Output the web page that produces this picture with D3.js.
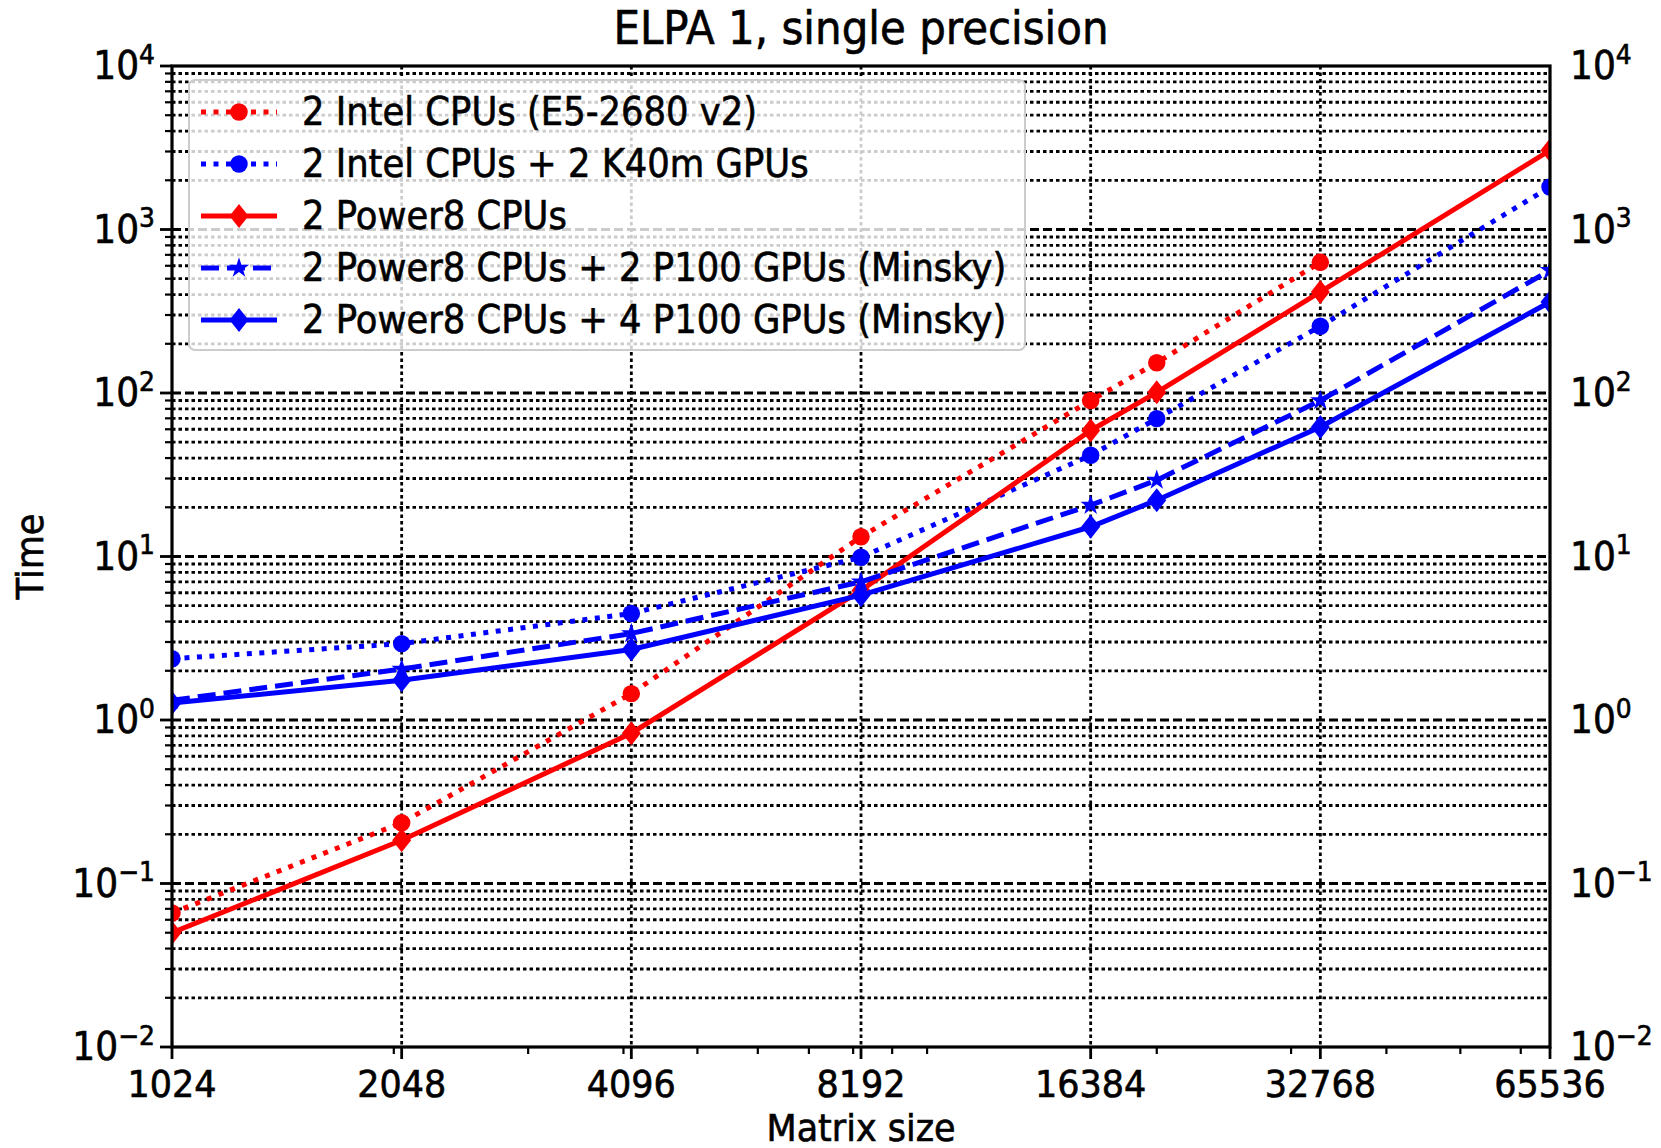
<!DOCTYPE html>
<html>
<head>
<meta charset="utf-8">
<script src="https://cdnjs.cloudflare.com/ajax/libs/d3/7.8.5/d3.min.js"></script>
<style>
  html, body { margin: 0; padding: 0; background: #fff; overflow: hidden; }
  svg { display: block; font-family: "DejaVu Sans", sans-serif; overflow: visible; }
  .txt { fill: #000; stroke: #000; stroke-width: 0.6; }
</style>
</head>
<body>
<div id="chart"></div>
<script>
// --- dati ---
const sizes = [1024, 2048, 4096, 8192, 16384, 20000, 32768, 65536];
const xTicks = [1024, 2048, 4096, 8192, 16384, 32768, 65536];
const xMinorTicks = [2000, 3000, 4000, 5000, 6000, 7000, 8000, 9000, 10000, 20000, 30000, 40000, 50000, 60000];
const yExponents = [-2, -1, 0, 1, 2, 3, 4];

const intelCpu   = [0.066, 0.235, 1.45, 13.2, 90, 153, 630, null];
const intelK40   = [2.37, 2.93, 4.48, 9.9, 41.6, 69.7, 256, 1820];
const power8     = [0.05, 0.184, 0.83, 6.2, 59, 101, 415, 3050];
const power8P2   = [1.32, 2.05, 3.38, 7.0, 20.6, 29.3, 90, 562];
const power8P4   = [1.27, 1.75, 2.7, 5.8, 15.2, 22.1, 62, 360];

const seriesNames = [
  "2 Intel CPUs (E5-2680 v2)",
  "2 Intel CPUs + 2 K40m GPUs",
  "2 Power8 CPUs",
  "2 Power8 CPUs + 2 P100 GPUs (Minsky)",
  "2 Power8 CPUs + 4 P100 GPUs (Minsky)"
];

const series = [
  { name: seriesNames[0], values: intelCpu, color: "#ff0000", dash: "5,7.5", marker: "circle" },
  { name: seriesNames[1], values: intelK40, color: "#0000ff", dash: "5,7.5", marker: "circle" },
  { name: seriesNames[2], values: power8,   color: "#ff0000", dash: null,    marker: "diamond" },
  { name: seriesNames[3], values: power8P2, color: "#0000ff", dash: "18,8",  marker: "star" },
  { name: seriesNames[4], values: power8P4, color: "#0000ff", dash: null,    marker: "diamond" }
];

// --- dimensioni ---
const width = 1661, height = 1148;
const margin = { top: 66, right: 111, bottom: 101, left: 172 };
const innerWidth = width - margin.left - margin.right;
const innerHeight = height - margin.top - margin.bottom;
const stretch = 1.08; // il testo nel riferimento e' un po' piu' alto

const svg = d3.select("#chart").append("svg")
  .attr("width", width).attr("height", height);

const g = svg.append("g").attr("transform", `translate(${margin.left},${margin.top})`);

const x = d3.scaleLog().base(2).domain([1024, 65536]).range([0, innerWidth]);
const y = d3.scaleLog().domain([1e-2, 1e4]).range([innerHeight, 0]);

// testo con leggero allungamento verticale
function addText(parent, tx, ty, str, size, anchor, rot) {
  return parent.append("text").attr("class", "txt")
    .attr("transform", `translate(${tx},${ty})` + (rot ? ` rotate(${rot})` : "") + ` scale(1,${stretch})`)
    .attr("text-anchor", anchor || "start").attr("font-size", size)
    .text(str);
}

// griglia orizzontale (maggiori e minori)
const yMinor = [];
for (let e = -2; e < 4; e++) for (let k = 2; k <= 9; k++) yMinor.push(k * Math.pow(10, e));

const grid = g.append("g").attr("class", "grid");
grid.selectAll(".hminor").data(yMinor).join("line")
  .attr("x1", 0).attr("x2", innerWidth)
  .attr("y1", d => y(d)).attr("y2", d => y(d))
  .attr("stroke", "#000").attr("stroke-width", 2.8).attr("stroke-dasharray", "3.5,3");
grid.selectAll(".hmajor").data(yExponents.slice(1, -1)).join("line")
  .attr("x1", 0).attr("x2", innerWidth)
  .attr("y1", d => y(Math.pow(10, d))).attr("y2", d => y(Math.pow(10, d)))
  .attr("stroke", "#000").attr("stroke-width", 3.2).attr("stroke-dasharray", "9,4");
grid.selectAll(".vmajor").data(xTicks.slice(1, -1)).join("line")
  .attr("x1", d => x(d)).attr("x2", d => x(d))
  .attr("y1", 0).attr("y2", innerHeight)
  .attr("stroke", "#000").attr("stroke-width", 2.8).attr("stroke-dasharray", "3.5,3");

// serie
const line = d3.line()
  .defined(d => d[1] != null)
  .x(d => x(d[0])).y(d => y(d[1]));

svg.append("defs").append("clipPath").attr("id", "plotclip")
  .append("rect").attr("width", innerWidth).attr("height", innerHeight);

const plot = g.append("g").attr("clip-path", "url(#plotclip)");

function markerPath(type) {
  if (type === "circle") return d3.symbol(d3.symbolCircle, 240)();
  if (type === "star") return d3.symbol(d3.symbolStar, 130)();
  return "M0,-12L9.5,0L0,12L-9.5,0Z";
}

series.forEach(s => {
  const pts = sizes.map((sz, i) => [sz, s.values[i]]);
  plot.append("path").datum(pts)
    .attr("d", line)
    .attr("fill", "none")
    .attr("stroke", s.color)
    .attr("stroke-width", 5)
    .attr("stroke-dasharray", s.dash);
  plot.selectAll(null).data(pts.filter(p => p[1] != null)).join("path")
    .attr("transform", p => `translate(${x(p[0])},${y(p[1])})`)
    .attr("d", markerPath(s.marker))
    .attr("fill", s.color);
});

// assi / cornice
g.append("rect").attr("width", innerWidth).attr("height", innerHeight)
  .attr("fill", "none").attr("stroke", "#000").attr("stroke-width", 3.2);

const axes = g.append("g");
// tick asse x
axes.selectAll(".xt").data(xTicks).join("line")
  .attr("x1", d => x(d)).attr("x2", d => x(d))
  .attr("y1", innerHeight).attr("y2", innerHeight + 12)
  .attr("stroke", "#000").attr("stroke-width", 2.8);
axes.selectAll(".xm").data(xMinorTicks).join("line")
  .attr("x1", d => x(d)).attr("x2", d => x(d))
  .attr("y1", innerHeight).attr("y2", innerHeight + 7)
  .attr("stroke", "#000").attr("stroke-width", 2.2);
xTicks.forEach(d => addText(axes, x(d), innerHeight + 50, d, 35, "middle"));

// tick asse y sinistro
axes.selectAll(".yt").data(yExponents).join("line")
  .attr("x1", -12).attr("x2", 0)
  .attr("y1", d => y(Math.pow(10, d))).attr("y2", d => y(Math.pow(10, d)))
  .attr("stroke", "#000").attr("stroke-width", 2.8);
axes.selectAll(".ym").data(yMinor).join("line")
  .attr("x1", -7).attr("x2", 0)
  .attr("y1", d => y(d)).attr("y2", d => y(d))
  .attr("stroke", "#000").attr("stroke-width", 2.2);

function powLabel(tx, e, anchor) {
  const t = addText(axes, tx, y(Math.pow(10, e)) + 13, "", 36, anchor);
  t.append("tspan").text("10");
  t.append("tspan").attr("font-size", 25).attr("dy", -14)
    .text(e < 0 ? "\u2212" + Math.abs(e) : e);
}
yExponents.forEach(e => {
  powLabel(-17, e, "end");
  powLabel(innerWidth + 20, e, "start");
});

// etichette
addText(svg, margin.left + innerWidth / 2, 44, "ELPA 1, single precision", 42, "middle");
addText(svg, margin.left + innerWidth / 2, 1141, "Matrix size", 35, "middle");
addText(svg, 43, margin.top + innerHeight / 2, "Time", 35, "middle", -90);

// legenda
const legend = g.append("g").attr("transform", "translate(17,14)");
legend.append("rect").attr("width", 836).attr("height", 270).attr("rx", 6)
  .attr("fill", "#fff").attr("fill-opacity", 0.8)
  .attr("stroke", "#ccc").attr("stroke-width", 2);
series.forEach((s, i) => {
  const row = legend.append("g").attr("transform", `translate(0,${32 + i * 52})`);
  row.append("line").attr("x1", 12).attr("x2", 88).attr("y1", 0).attr("y2", 0)
    .attr("stroke", s.color).attr("stroke-width", 5).attr("stroke-dasharray", s.dash);
  row.append("path").attr("transform", "translate(50,0)").attr("d", markerPath(s.marker)).attr("fill", s.color);
  addText(row, 113, 13, s.name, 35.4, "start");
});
</script>
</body>
</html>
